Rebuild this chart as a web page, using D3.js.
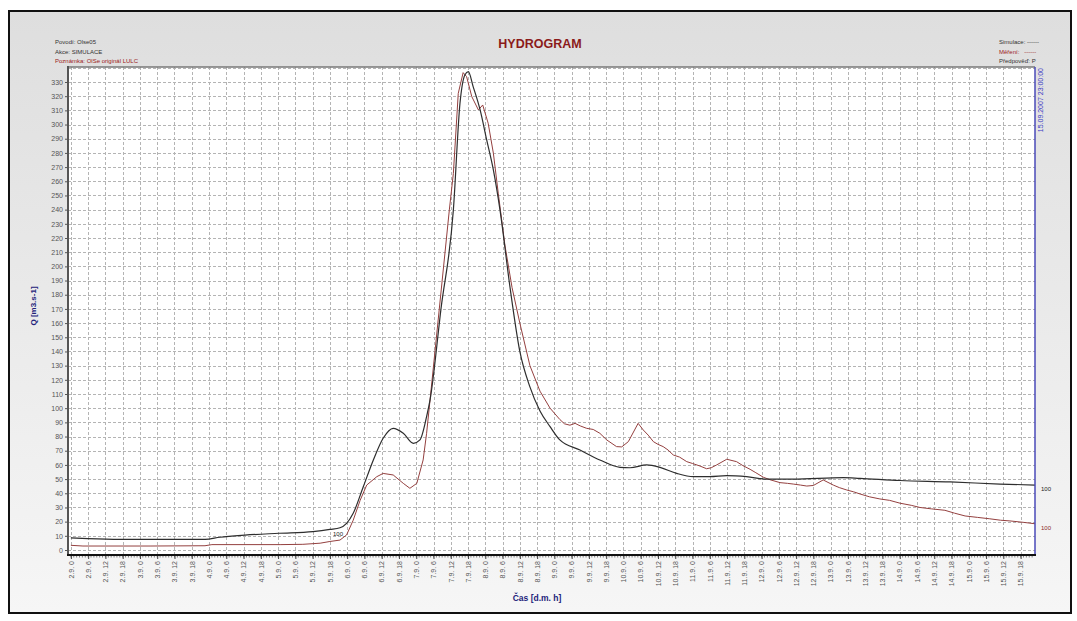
<!DOCTYPE html>
<html>
<head>
<meta charset="utf-8">
<script src="https://cdn.jsdelivr.net/npm/d3@7"></script>
<style>
  body { margin: 0; background: #ffffff; }
  svg text { font-family: "Liberation Sans", Arial, sans-serif; }
</style>
</head>
<body>
<svg id="chart" width="1077" height="621"></svg>
<script>
// Hours are counted from 2.9.2007 00:00; discharge Q in m3/s.
const simHours = [0, 5.9, 17.1, 34.4, 46.6, 51.8, 60.5, 72.3, 84.1, 90, 93.5, 95.8, 98.1, 101.6, 105.1,
  108.5, 112, 115.5, 119, 121.3, 123.6, 124.8, 128.6, 132.9, 135.2, 136.9, 138.1, 139.8, 142.2, 144.5,
  146.8, 149.1, 152.6, 156, 159.5, 163, 166.5, 169.9, 176.9, 183.8, 190.8, 194.3, 200.1, 204.7, 210.5,
  216.3, 222, 227.9, 234.8, 241.8, 251, 268.4, 274.2, 288.1, 305.5, 322.8, 335];
const simQ = [8.5, 8, 7.5, 7.5, 7.5, 9, 10.5, 11.8, 13, 14.5, 15.7, 18.8, 25.9, 44.6, 63.5,
  78.8, 85.8, 82.3, 75.2, 77.6, 94, 105.8, 170, 239.8, 315, 335, 337.3, 326.6, 310.3, 289,
  268, 239.8, 185, 140, 115, 98, 87, 77.6, 70.5, 63.5, 58.3, 58, 60, 58.3, 54,
  51.7, 51.7, 52.4, 51.7, 50, 50, 51, 50.5, 49, 48, 46.5, 45.8];

const obsHours = [0, 4.2, 27.5, 46.6, 49, 72.7, 80.6, 86.6, 90, 93.5, 95.8, 98.1, 100.5, 102.8, 106.3,
  108.5, 112, 115.5, 117.8, 120.2, 122.4, 123.6, 124.8, 131.5, 132.9, 134.6, 136.3, 137.5, 139.3,
  141.6, 143.1, 145, 146.8, 148.5, 150.8, 153.3, 156, 159.5, 163, 166.5, 169.9, 171.5, 173.4, 175.2,
  177, 179.2, 181.5, 183.8, 186.2, 189.6, 191.4, 193.7, 197.1, 198.9, 200.6, 202.4, 204, 205.8, 207.5,
  209.3, 211.5, 214, 216, 218.6, 220.9, 222.5, 224.4, 227.9, 231.3, 233.5, 236, 238, 240.6, 243,
  246.4, 249, 251, 253.5, 255.7, 258, 261.4, 264.9, 267, 269.6, 272, 274.2, 277.5, 281.1, 284.5,
  288.1, 292, 295, 299, 303.7, 307, 310.7, 315, 319.3, 323, 326.3, 331, 335];
const obsQ = [3.3, 2.8, 2.8, 3, 3.8, 3.8, 4, 4.8, 6, 7, 10.6, 21, 35, 45.8, 51.7,
  54, 52.9, 47, 43.5, 47, 63.5, 82.3, 105.8, 239.8, 265.6, 322, 336.6, 333.8, 319.7,
  310.3, 313.8, 300.9, 279.8, 251.6, 215, 185, 160, 130, 112, 100, 92, 89, 88, 89.3,
  87.5, 85.8, 85, 82.3, 77.6, 72.9, 72.7, 76.4, 89.3, 84.6, 81, 76.4, 74.5, 72.9, 70.5,
  67, 65.5, 62.3, 61, 59.2, 57.3, 58, 60, 64, 62.3, 59.5, 56.9, 54.5, 51.3, 49.5,
  47.5, 47, 46.5, 45.8, 45.1, 45.5, 49.4, 45.8, 44, 42.3, 41, 39.5, 37.5, 36, 35,
  33, 31.5, 30, 29, 28, 26, 24, 23, 22, 21, 20.5, 19.5, 18.5];

// Axis tick labels
const yTicks = d3.range(0, 331, 10);
const tickDays = [2, 3, 4, 5, 6, 7, 8, 9, 10, 11, 12, 13, 14, 15];
const tickHoursOfDay = [0, 6, 12, 18];

const headerLines = ["Povodí: Olse05", "Akce: SIMULACE", "Poznámka: OlSe originál LULC"];
const legendLines = ["Simulace: ------", "Měření:   ------", "Předpověď: P"];

const svg = d3.select("#chart");

// Panel background and frame
const defs = svg.append("defs");
const grad = defs.append("linearGradient").attr("id", "panelBg")
  .attr("x1", 0).attr("y1", 0).attr("x2", 0).attr("y2", 1);
grad.append("stop").attr("offset", "0%").attr("stop-color", "#dedede");
grad.append("stop").attr("offset", "100%").attr("stop-color", "#f6f6f6");

svg.append("rect").attr("x", 9).attr("y", 11).attr("width", 1062).attr("height", 602)
  .attr("fill", "url(#panelBg)").attr("stroke", "#111").attr("stroke-width", 2);

const L = 68, R = 1035, T = 67, B = 555;
const x = d3.scaleLinear().domain([-1, 335]).range([L, R]);
const y = d3.scaleLinear().domain([0, 330]).range([550, 82]);

svg.append("rect").attr("x", L).attr("y", T).attr("width", R - L).attr("height", B - T)
  .attr("fill", "#ffffff");

// Grid
const xTickHours = [];
tickDays.forEach((d, i) => tickHoursOfDay.forEach(h => xTickHours.push(i * 24 + h)));
const labelOf = {};
tickDays.forEach((d, i) => tickHoursOfDay.forEach(h => { labelOf[i * 24 + h] = d + ".9. " + h; }));

const grid = svg.append("g").attr("stroke", "#b4b4b4").attr("stroke-dasharray", "3,2")
  .attr("stroke-width", 1).attr("shape-rendering", "crispEdges");
grid.selectAll("line.h").data(yTicks.concat([340])).join("line")
  .attr("x1", L).attr("x2", R).attr("y1", d => Math.round(y(d)) + 0.5).attr("y2", d => Math.round(y(d)) + 0.5);
grid.selectAll("line.v").data(xTickHours).join("line")
  .attr("x1", d => Math.round(x(d)) + 0.5).attr("x2", d => Math.round(x(d)) + 0.5)
  .attr("y1", T).attr("y2", B);

// Series
const lineOf = curve => d3.line().x(d => x(d[0])).y(d => y(d[1])).curve(curve);
const simData = simHours.map((h, i) => [h, simQ[i]]);
const obsData = obsHours.map((h, i) => [h, obsQ[i]]);

svg.append("path").datum(obsData).attr("fill", "none").attr("stroke", "#94403f")
  .attr("stroke-width", 1).attr("d", lineOf(d3.curveLinear));
svg.append("path").datum(simData).attr("fill", "none").attr("stroke", "#2e2e2e")
  .attr("stroke-width", 1.2).attr("d", lineOf(d3.curveMonotoneX));

// Plot borders
svg.append("line").attr("x1", L).attr("x2", R).attr("y1", T).attr("y2", T)
  .attr("stroke", "#777").attr("stroke-width", 1.5);
svg.append("line").attr("x1", R).attr("x2", R).attr("y1", T).attr("y2", B)
  .attr("stroke", "#4a4ab8").attr("stroke-width", 1.5);

// Y axis
const yAxis = svg.append("g").attr("transform", `translate(${L},0)`)
  .call(d3.axisLeft(y).tickValues(yTicks).tickSize(3).tickPadding(2));
yAxis.select(".domain").remove();
yAxis.selectAll(".tick line").attr("stroke", "#555");
yAxis.selectAll("text").attr("fill", "#555").style("font-size", "7px");
svg.append("line").attr("x1", L).attr("x2", L).attr("y1", T - 1).attr("y2", B + 1)
  .attr("stroke", "#555").attr("stroke-width", 2);

// X axis: hourly minor ticks plus labelled 6-hour ticks
const minor = svg.append("g").attr("transform", `translate(0,${B})`);
minor.selectAll("line").data(d3.range(0, 335, 1)).join("line")
  .attr("x1", d => x(d)).attr("x2", d => x(d)).attr("y1", 0).attr("y2", 2.5)
  .attr("stroke", "#666").attr("stroke-width", 0.8);
const xAxis = svg.append("g").attr("transform", `translate(0,${B})`)
  .call(d3.axisBottom(x).tickValues(xTickHours).tickSize(4).tickFormat(d => labelOf[d]));
xAxis.select(".domain").remove();
xAxis.selectAll(".tick line").attr("stroke", "#444");
xAxis.selectAll("text")
  .attr("transform", "rotate(-90)").attr("text-anchor", "end")
  .attr("x", -6).attr("y", 0).attr("dy", "0.32em")
  .attr("fill", "#555").style("font-size", "7px");
svg.append("line").attr("x1", L - 1).attr("x2", R + 1).attr("y1", B).attr("y2", B)
  .attr("stroke", "#111").attr("stroke-width", 2);

// Titles
svg.append("text").attr("x", 540).attr("y", 48).attr("text-anchor", "middle")
  .attr("fill", "#8b1a1a").style("font-size", "12.5px").style("font-weight", "bold").text("HYDROGRAM");
svg.append("text").attr("transform", "translate(36,306) rotate(-90)").attr("text-anchor", "middle")
  .attr("fill", "#22227a").style("font-size", "8px").style("font-weight", "bold").text("Q [m3.s-1]");
svg.append("text").attr("x", 537).attr("y", 601).attr("text-anchor", "middle")
  .attr("fill", "#22227a").style("font-size", "8.5px").style("font-weight", "bold").text("Čas  [d.m. h]");

// Header and legend
svg.selectAll("text.hdr").data(headerLines).join("text").attr("class", "hdr")
  .attr("x", 55).attr("y", (d, i) => 44 + i * 9.5)
  .attr("fill", (d, i) => i === 2 ? "#9b2020" : "#333").style("font-size", "6px").text(d => d);
svg.selectAll("text.leg").data(legendLines).join("text").attr("class", "leg")
  .attr("x", 999).attr("y", (d, i) => 44 + i * 9.5)
  .attr("fill", (d, i) => i === 1 ? "#9b2020" : "#333").style("font-size", "6px")
  .style("white-space", "pre").text(d => d);

// Date stamp of the end of the record
svg.append("text").attr("transform", `translate(${R + 8},68) rotate(-90)`).attr("text-anchor", "end")
  .attr("fill", "#3b3bc4").style("font-size", "7px").text("15.09.2007 23:00:00");

// Profile labels
svg.append("text").attr("x", 338).attr("y", 536).attr("text-anchor", "middle")
  .attr("fill", "#222").style("font-size", "6px").text("100");
svg.append("text").attr("x", 1041).attr("y", 491)
  .attr("fill", "#222").style("font-size", "6px").text("100");
svg.append("text").attr("x", 1041).attr("y", 530)
  .attr("fill", "#8b2a2a").style("font-size", "6px").text("100");
</script>
</body>
</html>
